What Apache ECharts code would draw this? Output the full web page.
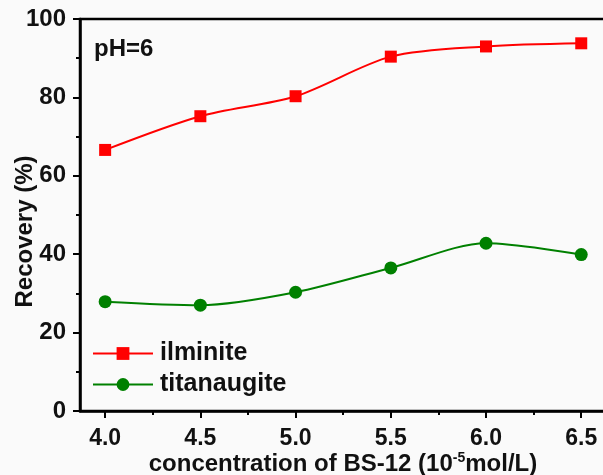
<!DOCTYPE html>
<html><head><meta charset="utf-8">
<script src="https://cdn.jsdelivr.net/npm/echarts@6/dist/echarts.min.js"></script>
<style>html,body{margin:0;padding:0;background:#fafafa}#c{width:603px;height:475px}</style>
</head><body><div id="c"></div>
<script>
const xValues = [4.0, 4.5, 5.0, 5.5, 6.0, 6.5];
const ilminite = [66.6, 75.2, 80.3, 90.4, 93.0, 93.8];
const titanaugite = [27.9, 27.0, 30.3, 36.5, 42.8, 39.9];
const xMajorTicks = [4.0, 4.5, 5.0, 5.5, 6.0, 6.5];
const xMinorTicks = [4.25, 4.75, 5.25, 5.75, 6.25];
const FONT = '"Liberation Sans", Arial, sans-serif';
const chart = echarts.init(document.getElementById('c'));
const xMin = 3.868, xMax = 6.63;
chart.setOption({
  backgroundColor: '#fafafa',
  animation: false,
  title: {text: 'pH=6', left: 94, top: 37, padding: 0, textStyle: {fontFamily: FONT, fontWeight: 'bold', fontSize: 24, color: '#111'}},
  legend: {
    orient: 'vertical', left: 92, top: 341, padding: 0, itemWidth: 60, itemHeight: 16, itemGap: 6,
    textStyle: {fontFamily: FONT, fontWeight: 'bold', fontSize: 25, lineHeight: 24, color: '#111', padding: [0, 0, 0, 2]},
    data: ['ilminite', 'titanaugite']
  },
  grid: {left: 80, top: 19, bottom: 64, right: -3, outerBoundsMode: 'none', containLabel: false,
    show: true, borderColor: '#000', borderWidth: 2.5, backgroundColor: 'transparent'},
  xAxis: [{
    type: 'value', min: xMin, max: xMax,
    name: 'concentration of BS-12 (10{sup|-5}mol/L)', nameLocation: 'middle', nameGap: 40, nameMoveOverlap: false,
    nameTextStyle: {fontFamily: FONT, fontWeight: 'bold', fontSize: 24, color: '#111',
      rich: {sup: {fontFamily: FONT, fontWeight: 'bold', fontSize: 14, color: '#111', verticalAlign: 'top', padding: [0, 0, 12, 0]}}},
    axisLine: {show: true, lineStyle: {color: '#000', width: 2.5}},
    axisTick: {show: true, length: 7, customValues: xMajorTicks, lineStyle: {color: '#000', width: 2}},
    axisLabel: {customValues: xMajorTicks, formatter: v => v.toFixed(1), margin: 16, fontFamily: FONT, fontWeight: 'bold', fontSize: 23, color: '#111'},
    splitLine: {show: false}
  }, {
    type: 'value', min: xMin, max: xMax, position: 'bottom',
    axisLine: {show: false},
    axisTick: {show: true, length: 4, customValues: xMinorTicks, lineStyle: {color: '#000', width: 2}},
    axisLabel: {show: false}, splitLine: {show: false}
  }],
  yAxis: {
    type: 'value', min: 0, max: 100, interval: 20,
    name: 'Recovery (%)', nameLocation: 'middle', nameGap: 43, nameMoveOverlap: false,
    nameTextStyle: {fontFamily: FONT, fontWeight: 'bold', fontSize: 24, color: '#111', padding: [0, 33, 0, 0]},
    axisLine: {show: true, lineStyle: {color: '#000', width: 2.5}},
    axisTick: {show: true, length: 7, lineStyle: {color: '#000', width: 2}},
    minorTick: {show: true, splitNumber: 2, length: 4, lineStyle: {color: '#000', width: 2}},
    axisLabel: {margin: 14, fontFamily: FONT, fontWeight: 'bold', fontSize: 24, color: '#111'},
    splitLine: {show: false}
  },
  series: [{
    name: 'ilminite', type: 'line', smooth: 0.3, symbol: 'rect', symbolSize: 12,
    color: '#ff0000', lineStyle: {width: 2},
    data: xValues.map((x, i) => [x, ilminite[i]])
  }, {
    name: 'titanaugite', type: 'line', smooth: 0.3, symbol: 'circle', symbolSize: 13,
    color: '#008000', lineStyle: {width: 2},
    data: xValues.map((x, i) => [x, titanaugite[i]])
  }]
});
</script></body></html>
